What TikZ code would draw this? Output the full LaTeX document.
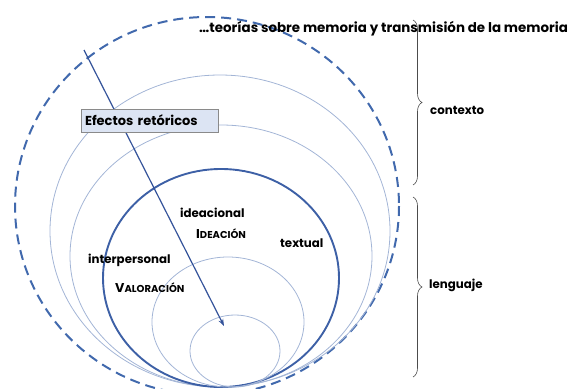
\documentclass[tikz,border=0pt]{standalone}
\usepackage{fontspec}
\setmainfont{Poppins}
\usetikzlibrary{decorations.pathreplacing,arrows.meta}
\definecolor{dashblue}{HTML}{4169AD}
\definecolor{thickblue}{HTML}{3D60A6}
\definecolor{thinblue}{HTML}{A3B5D6}
\definecolor{arrowblue}{HTML}{34539A}
\definecolor{boxfill}{HTML}{DCE4F3}
\definecolor{boxline}{HTML}{8A8A8A}
\tikzset{
  lbl/.style={anchor=west,inner sep=0pt,font=\fontsize{11.8}{13}\selectfont\bfseries},
  ring/.style={draw=thinblue,line width=0.8pt},
  bigring/.style={draw=thickblue,line width=1.9pt},
  bracelbl/.style={decorate,decoration={brace,amplitude=9pt},draw=black!70,line width=0.6pt}
}
\newcommand{\fakesc}[2]{{\fontsize{12.8}{14}\selectfont#1}{\fontsize{10}{12}\selectfont#2}}
\begin{document}
\begin{tikzpicture}[x=1pt,y=-1pt]
\useasboundingbox (0,0) rectangle (577,388);
\clip (0,0) rectangle (577,388);
% rings, all touching at the bottom
\draw[dashblue,line width=2pt,dash pattern=on 10pt off 6pt] (207,206) ellipse [x radius=192,y radius=189];
\draw[ring] (220,231) ellipse [x radius=170,y radius=156];
\draw[ring] (221,256) ellipse [x radius=151,y radius=131];
\draw[bigring] (221,278) ellipse [x radius=118,y radius=109];
\draw[ring] (228,322) ellipse [x radius=76,y radius=65];
\draw[ring] (235,351) ellipse [x radius=45,y radius=36];
% arrow through the rings
\coordinate (arrstart) at (84,50);
\coordinate (arrend) at (224,326);
\draw[arrowblue,line width=1.2pt,-{Stealth[length=7pt,width=5pt]}] (arrstart) -- (arrend);
\node (efectos) [draw=boxline,fill=boxfill,line width=0.8pt,minimum width=137pt,minimum height=23pt,
  text width=129pt,align=left,inner sep=3pt,font=\fontsize{13}{14}\selectfont\bfseries] at (149.5,120.5) {Efectos retóricos};
% labels
\node (teorias) [lbl,font=\fontsize{13.4}{15}\selectfont\bfseries] at (199,29) {…teorías sobre memoria y transmisión de la memoria};
\node (ideacional) [lbl] at (180,213) {ideacional};
\node (ideacion) [lbl] at (196,234) {\fakesc{I}{DEACIÓN}};
\node (textual) [lbl] at (280,243) {textual};
\node (interpersonal) [lbl] at (88,260) {interpersonal};
\node (valoracion) [lbl] at (115,288) {\fakesc{V}{ALORACIÓN}};
\node (contexto) [lbl] at (430,110) {contexto};
\node (lenguaje) [lbl] at (429,285) {lenguaje};
% braces
\coordinate (ctop) at (413,20);
\coordinate (cbot) at (413,185);
\coordinate (ltop) at (413,197);
\coordinate (lbot) at (413,377);
\draw[bracelbl] (ctop) -- (cbot);
\draw[bracelbl] (ltop) -- (lbot);
\end{tikzpicture}
\end{document}
